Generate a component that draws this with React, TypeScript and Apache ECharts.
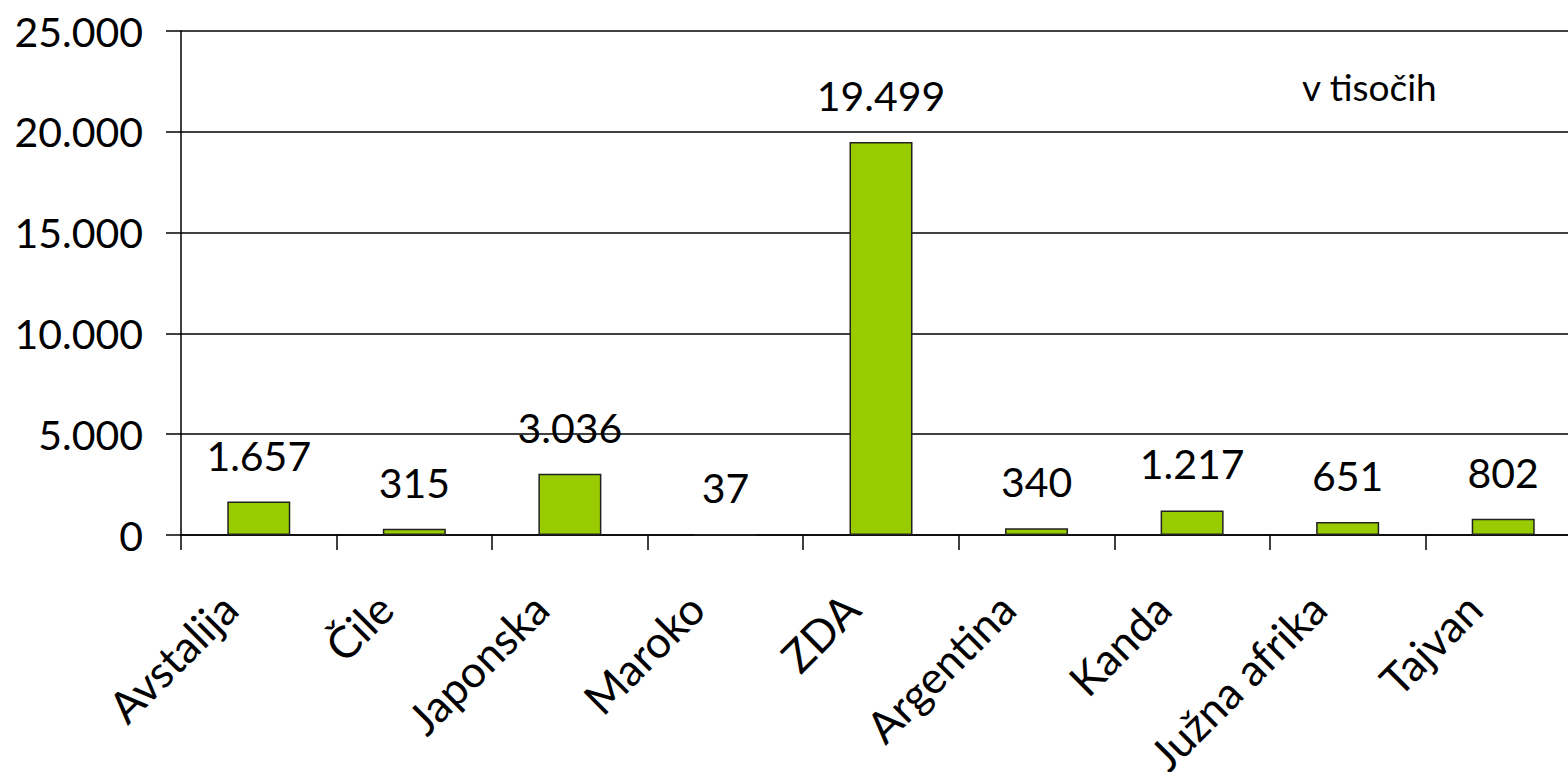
import React, { useEffect, useRef } from "react";
import * as echarts from "echarts";

const categories = ["Avstalija", "Čile", "Japonska", "Maroko", "ZDA", "Argentina", "Kanda", "Južna afrika", "Tajvan"];
const values = [1657, 315, 3036, 37, 19499, 340, 1217, 651, 802];
const yTicks = [0, 5000, 10000, 15000, 20000, 25000];
const unitNote = "v tisočih";

const fmt = (v: number) => String(Math.round(v)).replace(/\B(?=(\d{3})+(?!\d))/g, ".");

export default function App() {
  const ref = useRef<HTMLDivElement>(null);
  useEffect(() => {
    if (!ref.current) return;
    const chart = echarts.init(ref.current, null, { renderer: "svg" });
    const font = "Lato, 'Open Sans', sans-serif";
    chart.setOption({
      animation: false,
      textStyle: { fontFamily: font },
      grid: { left: 181, width: 1400, top: 31, bottom: 237, containLabel: false, outerBoundsMode: "none" },
      xAxis: {
        type: "category",
        data: categories,
        boundaryGap: true,
        axisLine: { lineStyle: { color: "#000", width: 1.5 } },
        axisTick: { show: true, length: 15, lineStyle: { color: "#000", width: 1.5 } },
        axisLabel: {
          rotate: 45,
          margin: 36,
          padding: [0, 42, 0, 0],
          fontSize: 44,
          color: "#000",
          fontFamily: font,
          interval: 0,
        },
      },
      yAxis: {
        type: "value",
        min: yTicks[0],
        max: yTicks[yTicks.length - 1],
        interval: 5000,
        axisLine: { show: true, lineStyle: { color: "#000", width: 1.5 } },
        axisTick: { show: true, length: 15, lineStyle: { color: "#000", width: 1.5 } },
        axisLabel: { margin: 38, fontSize: 41, color: "#000", fontFamily: font, formatter: (v: number) => fmt(v) },
        splitLine: { show: true, lineStyle: { color: "#000", width: 1.5 } },
      },
      series: [
        {
          type: "bar",
          data: values,
          barWidth: 63,
          itemStyle: { color: "#99CC00", borderColor: "#222", borderWidth: 1.5 },
          label: {
            show: true,
            position: "top",
            distance: 26,
            fontSize: 41,
            color: "#000",
            fontFamily: font,
            formatter: (p: any) => fmt(p.value),
          },
        },
      ],
      graphic: [
        {
          type: "text",
          left: 1302,
          top: 68,
          style: { text: unitNote, fontSize: 37, fill: "#000", fontFamily: font },
        },
      ],
    });
    return () => chart.dispose();
  }, []);
  return <div ref={ref} style={{ width: 1568, height: 772, position: "absolute", left: 0, top: 0 }} />;
}
